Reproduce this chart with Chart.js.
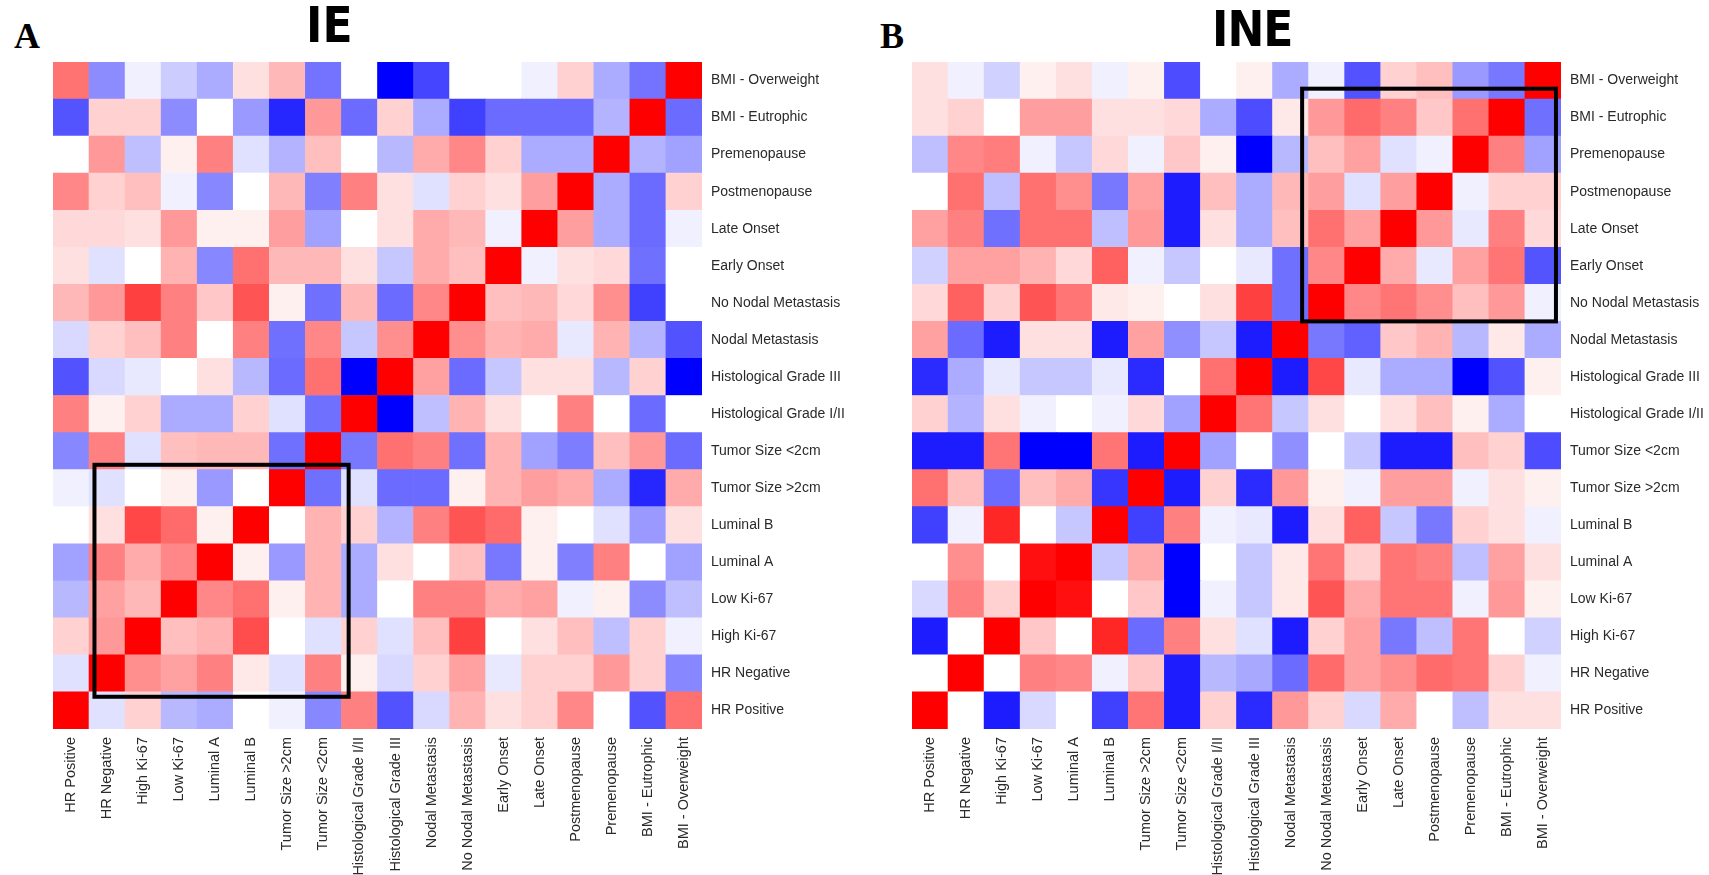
<!DOCTYPE html>
<html>
<head>
<meta charset="utf-8">
<script src="https://cdn.jsdelivr.net/npm/chart.js@4.4.1/dist/chart.umd.min.js"></script>
<style>
  body { margin: 0; background: #fff; width: 1709px; height: 875px; position: relative; overflow: hidden; }
  canvas { position: absolute; top: 0; }
  .panel { position: absolute; font-family: "Liberation Serif", "DejaVu Serif", serif; font-weight: bold; font-size: 36px; line-height: 1; color: #000; }
  .title { position: absolute; font-family: "Liberation Sans Narrow", "DejaVu Sans Condensed", sans-serif; font-weight: bold; font-size: 49px; line-height: 1; color: #000; }
</style>
</head>
<body>
<div class="panel" style="left:14px; top:18px;">A</div>
<div class="title" style="left:306px; top:1px;">IE</div>
<div class="panel" style="left:880px; top:18px;">B</div>
<div class="title" style="left:1212px; top:5px; letter-spacing:-1px;">INE</div>
<canvas id="ie" width="860" height="875" style="left:0px;"></canvas>
<canvas id="ine" width="849" height="875" style="left:860px;"></canvas>
<script>
// variables, bottom row / first column first
const labels = ["HR Positive", "HR Negative", "High Ki-67", "Low Ki-67", "Luminal A", "Luminal B",
  "Tumor Size >2cm", "Tumor Size <2cm", "Histological Grade I/II", "Histological Grade III",
  "Nodal Metastasis", "No Nodal Metastasis", "Early Onset", "Late Onset", "Postmenopause",
  "Premenopause", "BMI - Eutrophic", "BMI - Overweight"];

// correlations, rows listed top (BMI - Overweight) to bottom (HR Positive)
const ieValues = [
  [0.55, -0.45, -0.06, -0.2, -0.33, 0.12, 0.28, -0.55, 0, -1, -0.73, 0, 0, -0.06, 0.18, -0.33, -0.55, 1],
  [-0.67, 0.18, 0.18, -0.45, 0, -0.4, -0.85, 0.4, -0.58, 0.18, -0.33, -0.75, -0.58, -0.58, -0.58, -0.3, 1, -0.58],
  [0, 0.4, -0.25, 0.06, 0.5, -0.12, -0.3, 0.25, 0, -0.28, 0.33, 0.47, 0.18, -0.33, -0.33, 1, -0.3, -0.37],
  [0.47, 0.18, 0.25, -0.06, -0.47, 0, 0.28, -0.5, 0.5, 0.12, -0.12, 0.18, 0.12, 0.38, 1, -0.33, -0.58, 0.18],
  [0.15, 0.15, 0.12, 0.4, 0.06, 0.06, 0.38, -0.37, 0, 0.12, 0.33, 0.28, -0.06, 1, 0.38, -0.33, -0.58, -0.06],
  [0.12, -0.12, 0, 0.3, -0.47, 0.56, 0.28, 0.28, 0.12, -0.22, 0.33, 0.25, 1, -0.06, 0.12, 0.15, -0.56, 0],
  [0.28, 0.4, 0.75, 0.5, 0.22, 0.67, 0.06, -0.56, 0.28, -0.58, 0.47, 1, 0.25, 0.28, 0.15, 0.44, -0.75, 0],
  [-0.15, 0.18, 0.25, 0.5, 0, 0.5, -0.56, 0.47, -0.22, 0.44, 1, 0.44, 0.3, 0.33, -0.09, 0.3, -0.3, -0.68],
  [-0.68, -0.15, -0.09, 0, 0.12, -0.28, -0.58, 0.56, -1, 1, 0.37, -0.58, -0.22, 0.12, 0.12, -0.28, 0.18, -1],
  [0.5, 0.06, 0.18, -0.33, -0.33, 0.18, -0.12, -0.56, 1, -1, -0.25, 0.3, 0.12, 0, 0.5, 0, -0.58, 0],
  [-0.47, 0.5, -0.12, 0.25, 0.28, 0.28, -0.56, 1, -0.53, 0.56, 0.5, -0.56, 0.3, -0.37, -0.51, 0.25, 0.4, -0.58],
  [-0.06, -0.12, 0, 0.06, -0.4, 0, 1, -0.56, -0.12, -0.58, -0.58, 0.06, 0.3, 0.38, 0.33, -0.33, -0.85, 0.33],
  [0, 0.12, 0.72, 0.58, 0.06, 1, 0, 0.3, 0.18, -0.3, 0.5, 0.67, 0.58, 0.06, 0, -0.12, -0.4, 0.12],
  [-0.37, 0.5, 0.33, 0.47, 1, 0.06, -0.4, 0.3, -0.33, 0.12, 0, 0.25, -0.53, 0.06, -0.5, 0.5, 0, -0.37],
  [-0.28, 0.37, 0.28, 1, 0.47, 0.56, 0.06, 0.3, -0.33, 0, 0.5, 0.5, 0.33, 0.37, -0.06, 0.06, -0.45, -0.25],
  [0.18, 0.4, 1, 0.25, 0.3, 0.7, 0, -0.12, 0.18, -0.12, 0.25, 0.75, 0, 0.12, 0.25, -0.25, 0.18, -0.06],
  [-0.12, 1, 0.44, 0.37, 0.5, 0.09, -0.12, 0.5, 0.06, -0.15, 0.18, 0.37, -0.09, 0.18, 0.18, 0.4, 0.18, -0.47],
  [1, -0.12, 0.18, -0.28, -0.33, 0, -0.06, -0.47, 0.5, -0.68, -0.15, 0.3, 0.12, 0.18, 0.47, 0, -0.68, 0.56]
];

const ineValues = [
  [0.12, -0.06, -0.18, 0.06, 0.12, -0.06, 0.06, -0.7, 0, 0.06, -0.33, -0.06, -0.68, 0.18, 0.25, -0.4, -0.53, 1],
  [0.12, 0.18, 0, 0.38, 0.38, 0.12, 0.12, 0.15, -0.33, -0.7, 0.09, 0.4, 0.58, 0.5, 0.22, 0.56, 1, -0.56],
  [-0.25, 0.47, 0.51, -0.06, -0.22, 0.15, -0.06, 0.22, 0.06, -1, -0.28, 0.25, 0.37, -0.12, -0.06, 1, 0.5, -0.37],
  [0, 0.56, -0.25, 0.56, 0.44, -0.53, 0.37, -0.89, 0.25, -0.33, 0.28, 0.38, -0.12, 0.38, 1, -0.06, 0.18, 0.18],
  [0.37, 0.5, -0.56, 0.56, 0.56, -0.25, 0.4, -0.89, 0.12, -0.33, 0.25, 0.56, 0.37, 1, 0.4, -0.09, 0.5, 0.15],
  [-0.18, 0.37, 0.37, 0.3, 0.15, 0.62, -0.06, -0.22, 0, -0.09, -0.56, 0.47, 1, 0.33, -0.09, 0.37, 0.54, -0.67],
  [0.15, 0.62, 0.18, 0.67, 0.54, 0.09, 0.06, 0, 0.12, 0.75, -0.56, 1, 0.47, 0.54, 0.44, 0.25, 0.4, -0.06],
  [0.37, -0.58, -0.89, 0.12, 0.12, -0.89, 0.37, -0.44, -0.22, -0.89, 1, -0.53, -0.62, 0.22, 0.3, -0.28, 0.09, -0.33],
  [-0.83, -0.33, -0.09, -0.22, -0.22, -0.09, -0.83, 0, 0.56, 1, -0.89, 0.72, -0.09, -0.33, -0.33, -1, -0.68, 0.06],
  [0.18, -0.3, 0.12, -0.06, 0, -0.06, 0.15, -0.37, 1, 0.54, -0.22, 0.12, 0, 0.12, 0.25, 0.06, -0.33, 0],
  [-0.89, -0.89, 0.54, -1, -1, 0.54, -0.89, 1, -0.37, 0, -0.44, 0, -0.22, -0.89, -0.89, 0.25, 0.18, -0.7],
  [0.56, 0.25, -0.58, 0.25, 0.33, -0.79, 1, -0.89, 0.18, -0.83, 0.4, 0.06, -0.06, 0.38, 0.38, -0.06, 0.12, 0.06],
  [-0.75, -0.06, 0.85, 0, -0.22, 1, -0.75, 0.5, -0.06, -0.09, -0.89, 0.12, 0.62, -0.22, -0.53, 0.18, 0.12, -0.06],
  [0, 0.44, 0, 0.94, 1, -0.22, 0.33, -1, 0, -0.22, 0.09, 0.54, 0.18, 0.54, 0.5, -0.25, 0.37, 0.12],
  [-0.15, 0.5, 0.18, 1, 0.94, 0, 0.22, -1, -0.06, -0.22, 0.09, 0.67, 0.33, 0.54, 0.54, -0.06, 0.4, 0.06],
  [-0.89, 0, 1, 0.22, 0, 0.85, -0.58, 0.5, 0.12, -0.12, -0.89, 0.18, 0.37, -0.53, -0.25, 0.54, 0, -0.18],
  [0, 1, 0, 0.5, 0.47, -0.06, 0.22, -0.89, -0.28, -0.34, -0.58, 0.58, 0.37, 0.44, 0.58, 0.54, 0.18, -0.06],
  [1, 0, -0.89, -0.15, 0, -0.75, 0.54, -0.89, 0.18, -0.83, 0.4, 0.18, -0.15, 0.33, 0, -0.25, 0.12, 0.12]
];

// highlighted blocks, in cell units (column edge / row edge from bottom-left)
const ieBox = { x0: 1.15, x1: 8.2, y0: 0.87, y1: 7.13 };
const ineBox = { x0: 10.82, x1: 17.86, y0: 11.0, y1: 17.28 };

function cellColor(v) {
  if (v >= 0) {
    const c = Math.round(255 * (1 - v));
    return "rgb(255," + c + "," + c + ")";
  }
  const c = Math.round(255 * (1 + v));
  return "rgb(" + c + "," + c + ",255)";
}

const boxPlugin = {
  id: "box",
  afterDatasetsDraw(chart, args, opts) {
    const ctx = chart.ctx;
    const xs = chart.scales.x, ys = chart.scales.y;
    const l = xs.getPixelForValue(opts.x0 - 0.5), r = xs.getPixelForValue(opts.x1 - 0.5);
    const t = ys.getPixelForValue(opts.y1), b = ys.getPixelForValue(opts.y0);
    ctx.save();
    ctx.strokeStyle = "#000";
    ctx.lineWidth = 4;
    ctx.strokeRect(l, t, r - l, b - t);
    ctx.restore();
  }
};

function heatmap(id, values, box, padLeft, axisWidth) {
  const datasets = labels.map(function (name, i) {
    return {
      label: name,
      data: labels.map(function () { return 1; }),
      backgroundColor: values[labels.length - 1 - i].map(cellColor),
      borderWidth: 0,
      barPercentage: 1,
      categoryPercentage: 1
    };
  });
  new Chart(document.getElementById(id), {
    type: "bar",
    data: { labels: labels, datasets: datasets },
    plugins: [boxPlugin],
    options: {
      responsive: false,
      animation: false,
      layout: { padding: { left: padLeft, top: 62, right: 0, bottom: 0 } },
      plugins: { legend: { display: false }, tooltip: { enabled: false }, box: box },
      scales: {
        x: {
          stacked: true,
          grid: { display: false, drawTicks: false },
          border: { display: false },
          ticks: {
            autoSkip: false, minRotation: 90, maxRotation: 90, padding: 8,
            color: "#2a2a2a", font: { family: "Liberation Sans, Arial, sans-serif", size: 14.5 }
          },
          afterFit: function (scale) { scale.height = 146; }
        },
        y: {
          stacked: true,
          position: "right",
          min: 0,
          max: labels.length,
          grid: { display: false, drawTicks: false },
          border: { display: false },
          afterBuildTicks: function (scale) {
            scale.ticks = labels.map(function (n, i) { return { value: i + 0.5 }; });
          },
          ticks: {
            padding: 9,
            color: "#2a2a2a",
            font: { family: "Liberation Sans, Arial, sans-serif", size: 14 },
            callback: function (value) { return labels[Math.floor(value)]; }
          },
          afterFit: function (scale) { scale.width = axisWidth; }
        }
      }
    }
  });
}

heatmap("ie", ieValues, ieBox, 53, 158);
heatmap("ine", ineValues, ineBox, 52, 148);
</script>
</body>
</html>
